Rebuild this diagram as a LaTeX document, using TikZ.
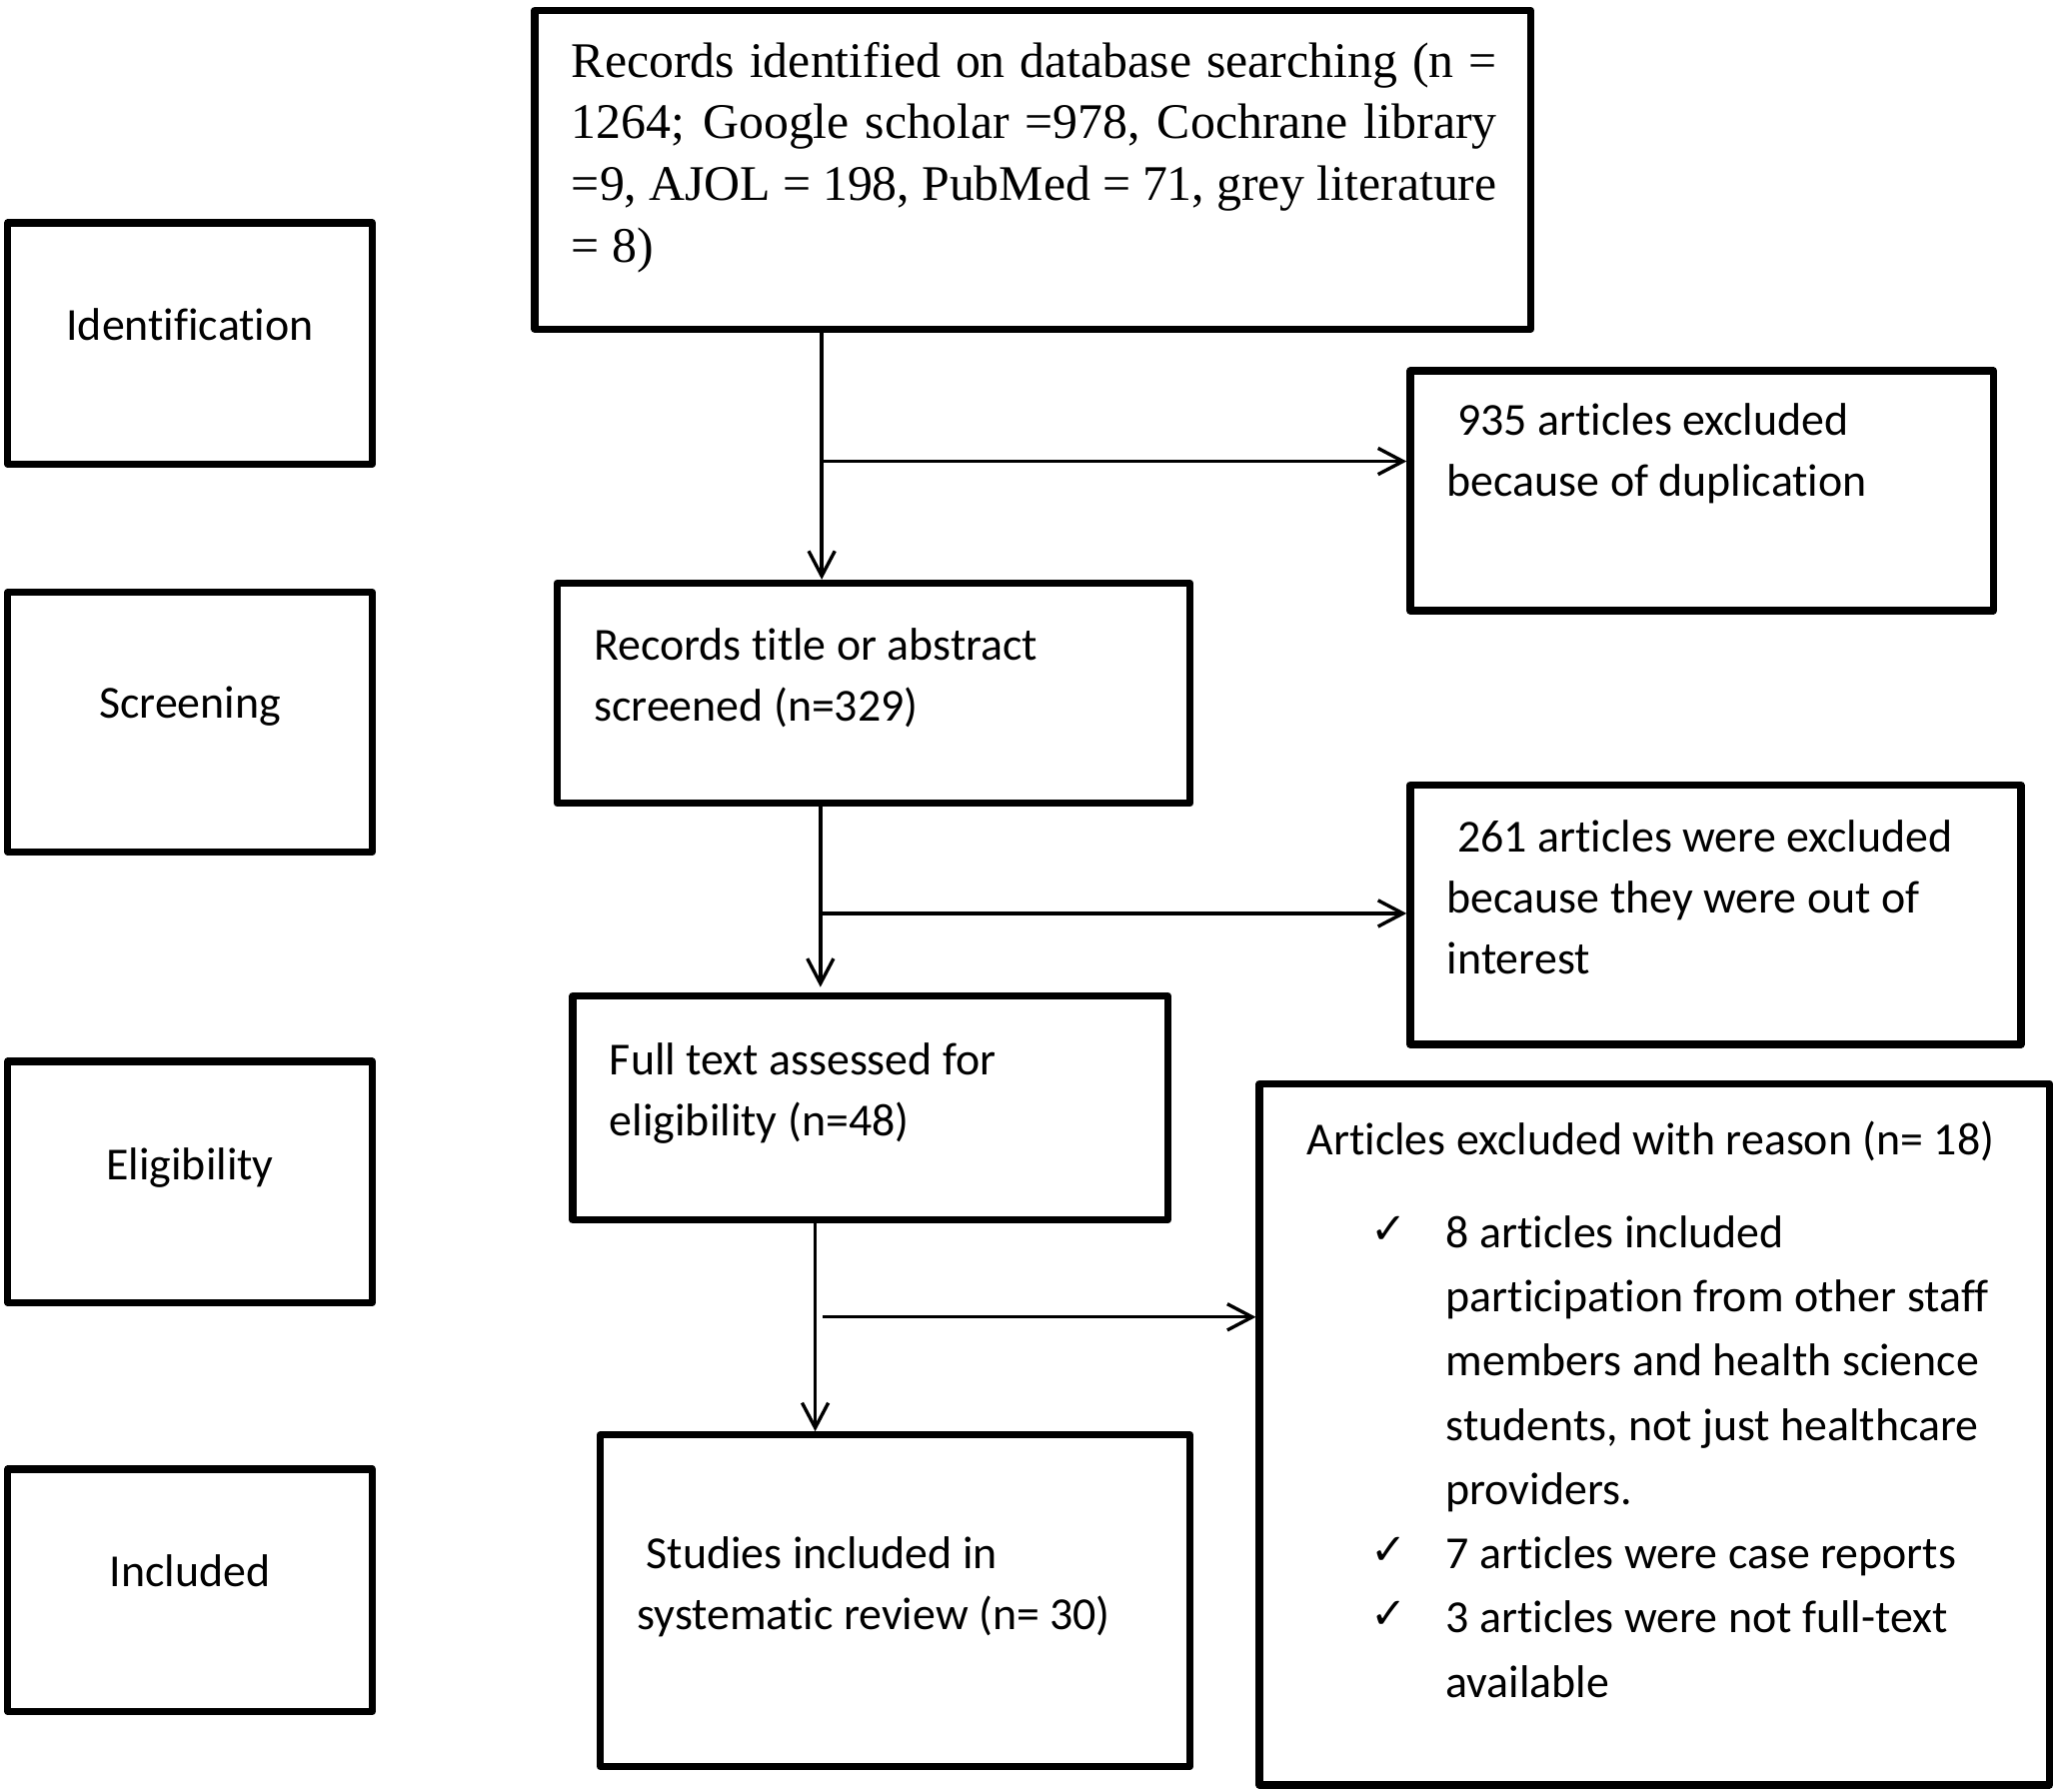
\documentclass[tikz,border=0pt]{standalone}
\usepackage{fontspec}
\setmainfont{Carlito}[Ligatures=CommonOff]
\newfontfamily\tnr{Liberation Serif}
\newfontfamily\chkfont{DejaVu Sans}
\usetikzlibrary{arrows.meta}
\begin{document}
\begin{tikzpicture}[x=1pt,y=-1pt,
  box/.style={draw,line width=5.5pt,line join=round,inner sep=0pt,minimum width=#1},
  boxh/.style={minimum height=#1},
  arr/.style={line width=2.6pt,-{Straight Barb[length=19pt,width=20pt,line width=2.6pt]}},
  cal/.style={inner sep=0pt,anchor=base west,text width=#1,align=flush left,font=\fontsize{35}{46.5}\selectfont},
  lab/.style={inner sep=0pt,anchor=base,font=\fontsize{35}{46.5}\selectfont},
  chk/.style={inner sep=0pt,anchor=base west,font=\chkfont\bfseries\fontsize{33}{33}\selectfont}]
\useasboundingbox[fill=white] (0,0) rectangle (1568,1366.7);
% stage boxes
\node[box=278pt,boxh=184pt] (idb) at (145,262) {};
\node[box=278pt,boxh=198pt] (scb) at (145,551) {};
\node[box=278pt,boxh=184pt] (elb) at (145,902) {};
\node[box=278pt,boxh=185pt] (inb) at (145,1213.5) {};
\node[lab] (idt) at (145,260) {Identification};
\node[lab] (sct) at (145,548) {Screening};
\node[lab] (elt) at (145,900) {Eligibility};
\node[lab] (int) at (145,1211) {Included};
% main boxes
\node[box=760pt,boxh=243pt] (top) at (788,129.5) {};
\node[box=445pt,boxh=183pt] (ex1) at (1298.5,374.5) {};
\node[box=483pt,boxh=168pt] (scr) at (666.5,529) {};
\node[box=466pt,boxh=198pt] (ex2) at (1309,698) {};
\node[box=454pt,boxh=171pt] (ful) at (664,845.5) {};
\node[box=603pt,boxh=535pt] (ex3) at (1262.5,1094.5) {};
\node[box=450pt,boxh=253pt] (inc) at (683,1221.5) {};
% texts
\node[inner sep=0pt,anchor=base west,text width=706pt,align=justify,
  font=\tnr\fontsize{38}{47}\selectfont] (topt) at (436,59)
  {Records identified on database searching (n =\linebreak
   1264; Google scholar =978, Cochrane library\linebreak
   =9, AJOL = 198, PubMed = 71, grey literature\linebreak
   = 8)};
\node[cal=420pt] (ex1t) at (1104,332) {\hspace*{8pt}935 articles excluded\\because of duplication};
\node[cal=440pt] (scrt) at (453,504) {Records title or abstract\\screened (n=329)};
\node[cal=440pt] (ex2t) at (1104,650) {\hspace*{8pt}261 articles were excluded\\because they were out of\\interest};
\node[cal=420pt] (fult) at (465,820) {Full text assessed for\\eligibility (n=48)};
\node[cal=560pt] (ex3h) at (997,881) {Articles excluded with reason (n= 18)};
\node[cal=450pt,font=\fontsize{35}{49}\selectfont] (ex3t) at (1103,952)
  {8 articles included\\participation from other staff\\members and health science\\students, not just healthcare\\providers.\\7 articles were case reports\\3 articles were not full-text\\available};
\node[chk] (ck1) at (1046,949) {✓};
\node[chk] (ck2) at (1046,1194) {✓};
\node[chk] (ck3) at (1046,1243) {✓};
\node[cal=420pt] (inct) at (486,1197) {\hspace*{7pt}Studies included in\\systematic review (n= 30)};
% junctions
\coordinate (j1) at (627,352);
\coordinate (j2) at (626,697);
\coordinate (j3) at (628,1005);
\coordinate (v3) at (622,1005);
% connectors
\draw[arr] (top.south -| j1) -- (scr.north -| j1);
\draw[arr] (j1) -- (j1 -| ex1.west);
\draw[arr,shorten >=4pt] (scr.south -| j2) -- (ful.north -| j2);
\draw[arr] (j2) -- (j2 -| ex2.west);
\draw[arr] (ful.south -| v3) -- (inc.north -| v3);
\draw[arr] (j3) -- (j3 -| ex3.west);
\end{tikzpicture}
\end{document}
